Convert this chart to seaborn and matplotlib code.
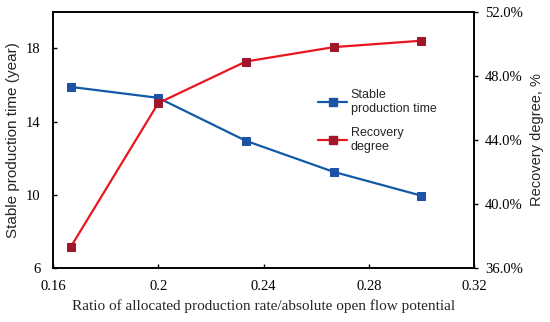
import matplotlib

matplotlib.use("Agg")
import matplotlib.pyplot as plt
import pandas as pd
import seaborn as sns
from matplotlib.lines import Line2D
from matplotlib.ticker import FormatStrFormatter, PercentFormatter

ratio = [0.1667, 0.2, 0.2333, 0.2667, 0.3]
stable_time = [15.9, 15.3, 12.95, 11.25, 9.95]
recovery = [37.3, 46.3, 48.9, 49.8, 50.2]

BLUE_LINE = "#1259A6"
BLUE_MARK = "#1D52A6"
RED_LINE = "#E8161E"
RED_MARK = "#A0172C"

data = pd.DataFrame({"ratio": ratio, "time": stable_time, "recovery": recovery})

sns.set_theme(style="ticks")
plt.rcParams["font.family"] = ["Liberation Serif", "DejaVu Serif"]
SANS = ["Liberation Sans", "DejaVu Sans"]

figure = plt.figure(figsize=(5.5, 3.22), dpi=100)
axis = figure.add_axes([0.0964, 0.168, 0.7655, 0.795])
twin = axis.twinx()

sns.lineplot(
    data=data, x="ratio", y="time", ax=axis, color=BLUE_LINE, linewidth=1.6,
    marker="s", markersize=5.5, markerfacecolor=BLUE_MARK,
    markeredgecolor=BLUE_MARK, zorder=3,
)
sns.lineplot(
    data=data, x="ratio", y="recovery", ax=twin, color=RED_LINE, linewidth=1.6,
    marker="s", markersize=5.5, markerfacecolor=RED_MARK,
    markeredgecolor=RED_MARK, zorder=2,
)

axis.set_xlim(0.16, 0.32)
axis.set_xticks([0.16, 0.2, 0.24, 0.28, 0.32])
axis.xaxis.set_major_formatter(FormatStrFormatter("%g"))
axis.set_ylim(6, 20)
axis.set_yticks([6, 10, 14, 18])
twin.set_ylim(36, 52)
twin.set_yticks([36, 40, 44, 48, 52])
twin.yaxis.set_major_formatter(PercentFormatter(decimals=1))

axis.set_xlabel(
    "Ratio of allocated production rate/absolute open flow potential",
    fontsize=11, labelpad=4,
)
axis.set_ylabel("Stable production time (year)", fontsize=11, family=SANS, labelpad=4)
twin.set_ylabel("Recovery degree, %", fontsize=10.5, family=SANS, labelpad=5)

axis.tick_params(axis="both", direction="in", length=3, width=1,
                 labelsize=10.5, colors="black")
axis.tick_params(axis="x", pad=9)
axis.tick_params(axis="y", pad=9)
twin.tick_params(axis="y", direction="out", length=3, width=1,
                 labelsize=10.5, colors="black", pad=5)
for ax in (axis, twin):
    for spine in ax.spines.values():
        spine.set_visible(True)
        spine.set_color("black")
        spine.set_linewidth(1.2)

handles = [
    Line2D([], [], color=BLUE_LINE, linewidth=1.6, marker="s",
           markersize=5.5, markerfacecolor=BLUE_MARK, markeredgecolor=BLUE_MARK),
    Line2D([], [], color=RED_LINE, linewidth=1.6, marker="s",
           markersize=5.5, markerfacecolor=RED_MARK, markeredgecolor=RED_MARK),
]
twin.legend(
    handles, ["Stable\nproduction time", "Recovery\ndegree"],
    loc="upper left", bbox_to_anchor=(0.63, 0.70), frameon=False,
    borderpad=0, borderaxespad=0, handlelength=2.3, handletextpad=0.3,
    labelspacing=1.0, prop={"family": SANS, "size": 9},
)

figure.savefig("out.png", dpi=100)
plt.close(figure)
